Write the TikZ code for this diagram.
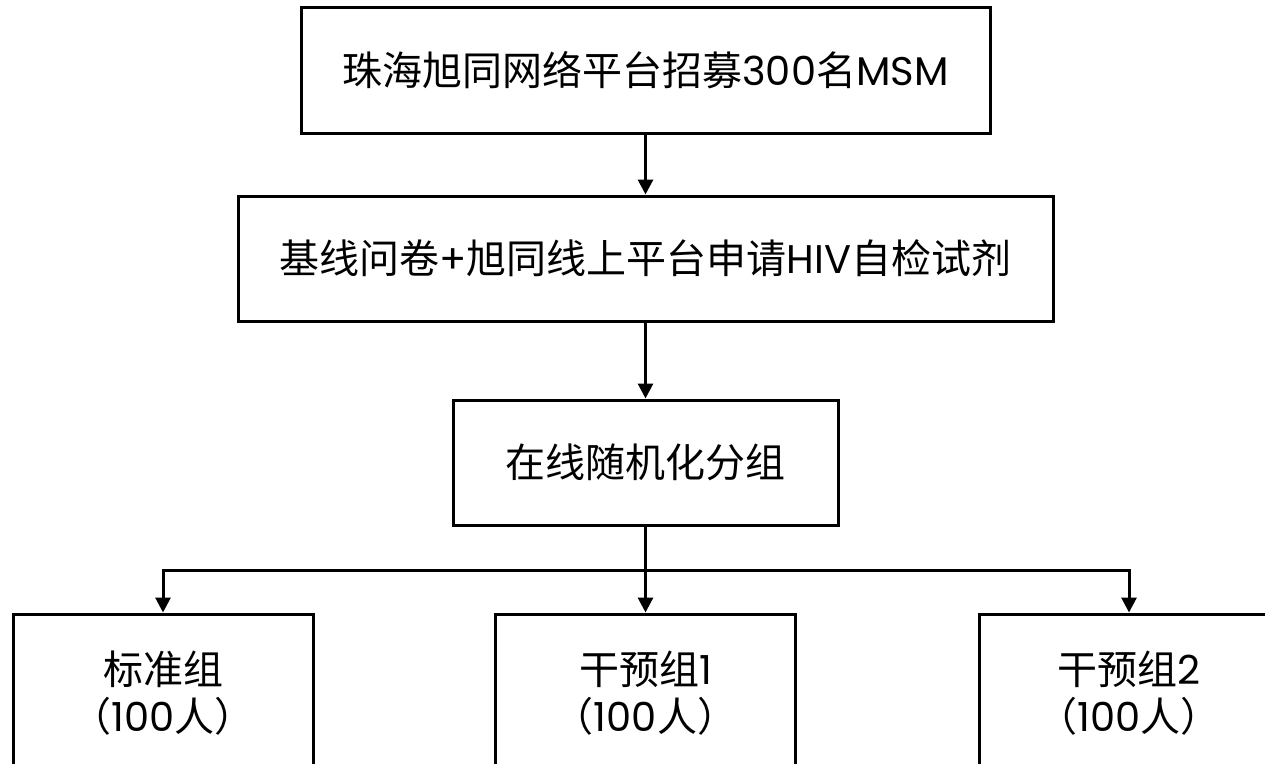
\documentclass[tikz,border=0pt]{standalone}
\usepackage{fontspec}
\setmainfont{Poppins}
\newfontfamily\cjk{Noto Sans CJK SC}
\usetikzlibrary{arrows.meta}
\begin{document}
\begin{tikzpicture}[x=1pt,y=-1pt,line width=3pt,
    kuang/.style={draw,inner sep=0pt,align=center,font=\fontsize{40}{47}\selectfont},
    >={Triangle[length=15pt,width=15pt]}]
    \useasboundingbox (0,0) rectangle (1265,763);
    \clip (0,0) rectangle (1265,763);
    \path
    (645.5,70) node[kuang,minimum width=689pt,minimum height=126pt] (zhaomu) {{\cjk 珠海旭同网络平台招募}300{\cjk 名}MSM}
    (645.5,258.5) node[kuang,minimum width=815pt,minimum height=125pt] (jixian) {{\cjk 基线问卷}+{\cjk 旭同线上平台申请}HIV{\cjk 自检试剂}}
    (645.5,462.5) node[kuang,minimum width=385pt,minimum height=125pt] (fenzu) {{\cjk 在线随机化分组}}
    ;
    \coordinate (cha) at (645.5,570);%分叉点
    \foreach \x/\n/\t in {163/zu0/{\cjk 标准组},645.5/zu1/{\cjk 干预组}1,1129/zu2/{\cjk 干预组}2}
    \path (\x,693) node[kuang,minimum width=300pt,minimum height=158pt] (\n) {{\t}\\{\cjk （}100{\cjk 人）}};
    \draw[->] (zhaomu)--(jixian);
    \draw[->] (jixian)--(fenzu);
    \draw (fenzu)--(cha);
    \foreach \n in {zu0,zu1,zu2}
    \draw[->] (cha)-|(\n.north);
\end{tikzpicture}
\end{document}
